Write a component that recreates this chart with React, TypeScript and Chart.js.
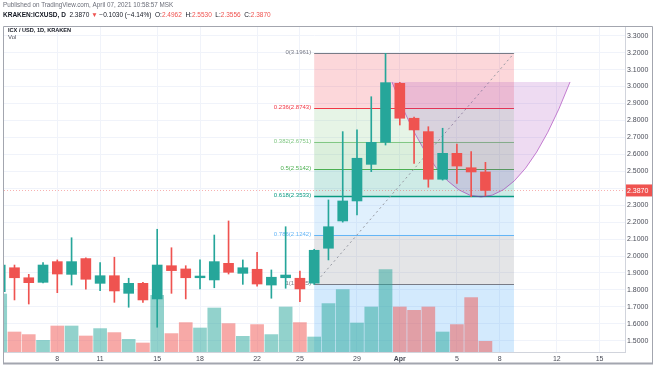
import React, { useEffect, useRef } from 'react';
import { Chart, registerables } from 'chart.js';

Chart.register(...registerables);

const FONT = "'Liberation Sans', Arial, sans-serif";

// ---- data (daily ICX/USD, Kraken) ----
const DATES = [
  '2021-03-04', '2021-03-05', '2021-03-06', '2021-03-07', '2021-03-08', '2021-03-09', '2021-03-10',
  '2021-03-11', '2021-03-12', '2021-03-13', '2021-03-14', '2021-03-15', '2021-03-16', '2021-03-17',
  '2021-03-18', '2021-03-19', '2021-03-20', '2021-03-21', '2021-03-22', '2021-03-23', '2021-03-24',
  '2021-03-25', '2021-03-26', '2021-03-27', '2021-03-28', '2021-03-29', '2021-03-30', '2021-03-31',
  '2021-04-01', '2021-04-02', '2021-04-03', '2021-04-04', '2021-04-05', '2021-04-06', '2021-04-07',
];
const OPEN = [1.790, 1.931, 1.872, 1.845, 1.967, 1.892, 1.985, 1.839, 1.884, 1.780, 1.839, 1.747, 1.943, 1.924, 1.872, 1.859, 1.957, 1.898, 1.922, 1.829, 1.872, 1.869, 1.840, 2.046, 2.207, 2.325, 2.541, 2.671, 3.019, 2.813, 2.734, 2.453, 2.606, 2.521, 2.4962];
const HIGH = [1.965, 1.947, 1.892, 1.961, 1.977, 2.108, 1.990, 1.961, 1.993, 1.869, 1.845, 2.158, 2.049, 1.943, 1.977, 2.124, 2.207, 1.977, 2.022, 1.918, 2.173, 1.912, 2.040, 2.331, 2.734, 2.744, 2.940, 3.1961, 3.025, 2.820, 2.763, 2.754, 2.661, 2.616, 2.553];
const LOW = [1.770, 1.741, 1.717, 1.841, 1.784, 1.829, 1.804, 1.796, 1.727, 1.698, 1.727, 1.580, 1.780, 1.747, 1.806, 1.813, 1.894, 1.833, 1.823, 1.751, 1.810, 1.731, 1.8325, 1.977, 2.200, 2.242, 2.498, 2.655, 2.773, 2.547, 2.406, 2.448, 2.429, 2.350, 2.3556];
const CLOSE = [1.947, 1.872, 1.843, 1.947, 1.894, 1.967, 1.863, 1.884, 1.794, 1.839, 1.741, 1.947, 1.914, 1.872, 1.882, 1.967, 1.904, 1.931, 1.835, 1.875, 1.888, 1.806, 2.034, 2.173, 2.325, 2.577, 2.671, 3.023, 2.813, 2.744, 2.453, 2.606, 2.531, 2.496, 2.387];
const VOLUME_K = [580, 200, 174, 117, 260, 260, 160, 234, 194, 127, 90, 567, 184, 294, 240, 440, 284, 157, 274, 174, 450, 294, 150, 484, 624, 290, 450, 824, 450, 417, 450, 200, 274, 544, 107];

const PRICE_TICKS = [1.5, 1.6, 1.7, 1.8, 1.9, 2.0, 2.1, 2.2, 2.3, 2.4, 2.5, 2.6, 2.7, 2.8, 2.9, 3.0, 3.1, 3.2, 3.3];
const DATE_TICKS = ['2021-03-08', '2021-03-11', '2021-03-15', '2021-03-18', '2021-03-22', '2021-03-25', '2021-03-29', '2021-04-01', '2021-04-05', '2021-04-08', '2021-04-12', '2021-04-15'];
const DATE_TICK_LABELS = ['8', '11', '15', '18', '22', '25', '29', 'Apr', '5', '8', '12', '15'];

const LAST_PRICE = 2.387;

// Fibonacci retracement drawing
const FIB_HIGH = 3.1961;
const FIB_LOW = 1.8325;
const FIB_FROM = '2021-03-26';
const FIB_TO = '2021-04-09';
const FIB_LEVELS = [0, 0.236, 0.382, 0.5, 0.618, 0.786, 1, 1.618];
const FIB_LABELS = ['0(3.1961)', '0.236(2.8743)', '0.382(2.6751)', '0.5(2.5142)', '0.618(2.3533)', '0.786(2.1242)', '1(1.8325)', '1.618(0.9899)'];
const FIB_LINE_COLORS = ['#787b86', '#f23645', '#81c784', '#4caf50', '#089981', '#64b5f6', '#787b86', '#2962ff'];
const FIB_FILLS = [
  'rgba(242,54,69,0.2)', 'rgba(129,199,132,0.2)', 'rgba(76,175,80,0.2)', 'rgba(8,153,129,0.2)',
  'rgba(100,181,246,0.2)', 'rgba(120,123,134,0.2)', 'rgba(33,150,243,0.2)',
];

// Curve (arc) drawing: day numbers (days after Feb 28) and prices
const ARC_X = [31.45, 37.69, 43.93];
const ARC_TOP = 3.027;
const ARC_CTRL = 1.670;

const X_MIN = 4.265;
const X_MAX = 47.78;
const Y_MIN = 1.4339;
const Y_MAX = 3.3513;
const VOL_MAX = 3250;

const UP = '#26a69a';
const DOWN = '#ef5350';
const UP_VOL = 'rgba(38,166,154,0.5)';
const DOWN_VOL = 'rgba(239,83,80,0.5)';

const BASE = Date.parse('2021-02-28');
const dayNum = (d: string) => (Date.parse(d) - BASE) / 86400000;
const DAYS = DATES.map(dayNum);
const isUp = (i: number) => CLOSE[i] >= OPEN[i];
const fibPrice = (l: number) => FIB_HIGH - (FIB_HIGH - FIB_LOW) * l;
const fmt = (v: number) => v.toFixed(4);

const drawingsPlugin = {
  id: 'drawings',
  beforeDatasetsDraw(chart: any) {
    const { ctx, chartArea: a, scales } = chart;
    const x = scales.x, y = scales.y;
    ctx.save();
    ctx.beginPath();
    ctx.rect(a.left, a.top, a.right - a.left, a.bottom - a.top);
    ctx.clip();

    const x0 = x.getPixelForValue(dayNum(FIB_FROM));
    const x1 = x.getPixelForValue(dayNum(FIB_TO));
    for (let i = 0; i < FIB_LEVELS.length - 1; i++) {
      const ya = y.getPixelForValue(fibPrice(FIB_LEVELS[i]));
      const yb = y.getPixelForValue(fibPrice(FIB_LEVELS[i + 1]));
      ctx.fillStyle = FIB_FILLS[i];
      ctx.fillRect(x0, ya, x1 - x0, yb - ya);
    }
    for (let i = 0; i < FIB_LEVELS.length; i++) {
      const yy = Math.round(y.getPixelForValue(fibPrice(FIB_LEVELS[i]))) + 0.5;
      ctx.strokeStyle = FIB_LINE_COLORS[i];
      ctx.lineWidth = FIB_LEVELS[i] === 0.618 ? 1.5 : 1;
      ctx.beginPath();
      ctx.moveTo(x0, yy);
      ctx.lineTo(x1, yy);
      ctx.stroke();
      ctx.fillStyle = FIB_LINE_COLORS[i];
      ctx.font = `6px ${FONT}`;
      ctx.textAlign = 'right';
      ctx.textBaseline = 'bottom';
      ctx.fillText(FIB_LABELS[i], x0 - 3, yy + 1.5);
    }
    // trend line of the retracement
    ctx.strokeStyle = '#9598a1';
    ctx.lineWidth = 1;
    ctx.setLineDash([2, 3]);
    ctx.beginPath();
    ctx.moveTo(x0, y.getPixelForValue(FIB_LOW));
    ctx.lineTo(x1, y.getPixelForValue(FIB_HIGH));
    ctx.stroke();
    ctx.setLineDash([]);

    // curve drawing
    const p0x = x.getPixelForValue(ARC_X[0]);
    const cx = x.getPixelForValue(ARC_X[1]);
    const p2x = x.getPixelForValue(ARC_X[2]);
    const pty = y.getPixelForValue(ARC_TOP);
    const cy = y.getPixelForValue(ARC_CTRL);
    ctx.beginPath();
    ctx.moveTo(p0x, pty);
    ctx.quadraticCurveTo(cx, cy, p2x, pty);
    ctx.closePath();
    ctx.fillStyle = 'rgba(156,39,176,0.17)';
    ctx.fill();
    ctx.beginPath();
    ctx.moveTo(p0x, pty);
    ctx.quadraticCurveTo(cx, cy, p2x, pty);
    ctx.strokeStyle = 'rgba(156,39,176,0.55)';
    ctx.stroke();

    // last price line
    const py = Math.round(y.getPixelForValue(LAST_PRICE)) + 0.5;
    ctx.strokeStyle = 'rgba(239,83,80,0.45)';
    ctx.setLineDash([1, 2]);
    ctx.beginPath();
    ctx.moveTo(a.left, py);
    ctx.lineTo(a.right, py);
    ctx.stroke();
    ctx.setLineDash([]);
    ctx.restore();
  },
  afterDraw(chart: any) {
    const { ctx, chartArea: a, scales } = chart;
    const y = scales.y;
    ctx.save();
    // last price label on the price axis
    const py = y.getPixelForValue(LAST_PRICE);
    ctx.fillStyle = DOWN;
    ctx.fillRect(a.right + 1, py - 6, 27, 12);
    ctx.fillStyle = '#ffffff';
    ctx.font = `7px ${FONT}`;
    ctx.textAlign = 'left';
    ctx.textBaseline = 'middle';
    ctx.fillText(fmt(LAST_PRICE), a.right + 2, py + 0.5);

    // frame
    ctx.strokeStyle = '#a3a6af';
    ctx.lineWidth = 1;
    ctx.beginPath();
    ctx.moveTo(3.5, 363);
    ctx.lineTo(3.5, 26.5);
    ctx.lineTo(652.5, 26.5);
    ctx.lineTo(652.5, 363);
    ctx.stroke();
    ctx.lineWidth = 2;
    ctx.beginPath();
    ctx.moveTo(3, 363.5);
    ctx.lineTo(653, 363.5);
    ctx.stroke();

    // header
    ctx.textAlign = 'left';
    ctx.textBaseline = 'middle';
    ctx.font = `6.3px ${FONT}`;
    ctx.fillStyle = '#6a6d78';
    ctx.fillText('Published on TradingView.com, April 07, 2021 10:58:57 MSK', 3, 5);
    const segs: [string, string, boolean][] = [
      ['KRAKEN:ICXUSD, D  ', '#131722', true],
      ['2.3870 ', '#131722', false],
      ['▼ ', DOWN, false],
      ['−0.1030 (−4.14%)  ', '#131722', false],
      ['O:', '#131722', false], ['2.4962  ', DOWN, false],
      ['H:', '#131722', false], ['2.5530  ', DOWN, false],
      ['L:', '#131722', false], ['2.3556  ', DOWN, false],
      ['C:', '#131722', false], ['2.3870', DOWN, false],
    ];
    let xx = 3;
    for (const [t, c, b] of segs) {
      ctx.font = `${b ? 'bold ' : ''}6.5px ${FONT}`;
      ctx.fillStyle = c;
      ctx.fillText(t, xx, 15);
      xx += ctx.measureText(t).width;
    }
    ctx.font = `bold 5.6px ${FONT}`;
    ctx.fillStyle = '#131722';
    ctx.fillText('ICX / USD, 1D, KRAKEN', 8, 30.5);
    ctx.font = `6px ${FONT}`;
    ctx.fillStyle = '#4a4d58';
    ctx.fillText('Vol', 8, 37.5);
    ctx.restore();
  },
};

export default function App() {
  const ref = useRef<HTMLCanvasElement>(null);
  useEffect(() => {
    document.body.style.margin = '0';
    const chart = new Chart(ref.current as HTMLCanvasElement, {
      type: 'bar',
      data: {
        datasets: [
          {
            label: 'Volume',
            yAxisID: 'yv',
            data: VOLUME_K.map((v, i) => ({ x: DAYS[i], y: v })) as any,
            backgroundColor: VOLUME_K.map((_, i) => (isUp(i) ? UP_VOL : DOWN_VOL)),
            barThickness: 13,
            grouped: false,
            borderWidth: 0,
            order: 3,
          } as any,
          {
            label: 'Wick',
            yAxisID: 'y',
            data: DAYS.map((d, i) => ({ x: d, y: [LOW[i], HIGH[i]] })) as any,
            backgroundColor: DAYS.map((_, i) => (isUp(i) ? UP : DOWN)),
            barThickness: 1,
            grouped: false,
            borderWidth: 0,
            order: 2,
          } as any,
          {
            label: 'Body',
            yAxisID: 'y',
            data: DAYS.map((d, i) => ({ x: d, y: [OPEN[i], CLOSE[i]] })) as any,
            backgroundColor: DAYS.map((_, i) => (isUp(i) ? UP : DOWN)),
            barThickness: 10,
            minBarLength: 1,
            grouped: false,
            borderWidth: 0,
            order: 1,
          } as any,
        ],
      },
      options: {
        responsive: false,
        maintainAspectRatio: false,
        animation: false,
        devicePixelRatio: 1,
        layout: { padding: { left: 4, top: 27, right: 0, bottom: 0 } },
        plugins: { legend: { display: false }, tooltip: { enabled: false } },
        scales: {
          x: {
            type: 'linear',
            min: X_MIN,
            max: X_MAX,
            offset: false,
            grid: { color: '#f0f3fa', drawTicks: false, offset: false },
            border: { display: true, color: '#d1d4dc' },
            ticks: {
              padding: 3,
              color: '#4a4d58',
              autoSkip: false,
              maxRotation: 0,
              font: (c: any) => ({ size: 7, family: FONT, weight: c.tick && c.tick.label === 'Apr' ? 'bold' : 'normal' }),
              callback: (v: any) => {
                const i = DATE_TICKS.findIndex((d) => dayNum(d) === v);
                return i >= 0 ? DATE_TICK_LABELS[i] : '';
              },
            },
            afterBuildTicks: (s: any) => {
              s.ticks = DATE_TICKS.map((d) => ({ value: dayNum(d) }));
            },
            afterFit: (s: any) => {
              s.height = 14;
            },
          } as any,
          y: {
            type: 'linear',
            position: 'right',
            min: Y_MIN,
            max: Y_MAX,
            grid: { color: '#f0f3fa', drawTicks: false },
            border: { display: true, color: '#d1d4dc' },
            ticks: {
              padding: 2,
              color: '#4a4d58',
              font: { size: 7, family: FONT },
              callback: (v: any) => fmt(Number(v)),
            },
            afterBuildTicks: (s: any) => {
              s.ticks = PRICE_TICKS.map((v) => ({ value: v }));
            },
            afterFit: (s: any) => {
              s.width = 29;
            },
          } as any,
          yv: {
            type: 'linear',
            display: false,
            min: 0,
            max: VOL_MAX,
          },
        },
      },
      plugins: [drawingsPlugin],
    });
    return () => chart.destroy();
  }, []);
  return (
    <div style={{ position: 'relative', width: 654, height: 366, background: '#ffffff' }}>
      <canvas ref={ref} width={654} height={366} style={{ display: 'block' }} />
    </div>
  );
}
